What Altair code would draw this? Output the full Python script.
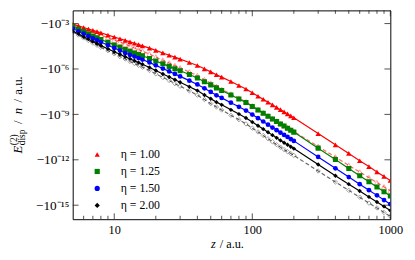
import altair as alt
import pandas as pd

# ---- data (z in a.u., values as log10|E| ) ----
z_values = [5, 5.5, 6, 6.5, 7, 7.5, 8, 9, 10, 11, 12, 13, 14, 15, 16, 18, 20,
            22.5, 25, 27.5, 30, 35, 40, 45, 50, 55, 60, 70, 80, 90, 100,
            110, 120, 130, 140, 150, 160, 170, 180, 190, 200,
            300, 400, 500, 600, 700, 800, 900, 1000]

log10_absE_eta100 = [-3.04, -3.15, -3.26, -3.36, -3.45, -3.53, -3.61, -3.76, -3.89, -4.00,
                     -4.11, -4.21, -4.30, -4.39, -4.47, -4.62, -4.77, -4.94, -5.09, -5.22,
                     -5.35, -5.57, -5.77, -5.99, -6.19, -6.38, -6.54, -6.83, -7.09, -7.32,
                     -7.57, -7.80, -8.00, -8.20, -8.37, -8.54, -8.69, -8.83, -8.97, -9.10,
                     -9.22, -10.27, -11.01, -11.58, -12.06, -12.45, -12.80, -13.10, -13.37]
log10_absE_eta125 = [-3.20, -3.37, -3.53, -3.68, -3.82, -3.94, -4.05, -4.24, -4.41, -4.57,
                     -4.71, -4.83, -4.94, -5.04, -5.13, -5.31, -5.47, -5.66, -5.83, -5.98,
                     -6.12, -6.37, -6.59, -6.84, -7.05, -7.25, -7.42, -7.72, -7.98, -8.22,
                     -8.48, -8.71, -8.92, -9.12, -9.30, -9.47, -9.63, -9.77, -9.91, -10.05,
                     -10.17, -11.23, -11.98, -12.57, -13.05, -13.45, -13.80, -14.11, -14.39]
log10_absE_eta150 = [-3.33, -3.51, -3.67, -3.83, -3.97, -4.10, -4.22, -4.43, -4.61, -4.78,
                     -4.94, -5.07, -5.18, -5.28, -5.38, -5.57, -5.76, -5.97, -6.16, -6.33,
                     -6.49, -6.77, -7.02, -7.28, -7.52, -7.74, -7.91, -8.23, -8.50, -8.75,
                     -9.01, -9.25, -9.47, -9.68, -9.87, -10.04, -10.21, -10.36, -10.49, -10.63,
                     -10.75, -11.81, -12.56, -13.14, -13.61, -14.01, -14.35, -14.66, -14.93]
log10_absE_eta200 = [-3.49, -3.68, -3.87, -4.03, -4.19, -4.32, -4.45, -4.67, -4.86, -5.03,
                     -5.19, -5.33, -5.46, -5.58, -5.69, -5.90, -6.10, -6.33, -6.53, -6.71,
                     -6.88, -7.17, -7.43, -7.72, -7.97, -8.19, -8.37, -8.70, -8.98, -9.24,
                     -9.51, -9.75, -9.97, -10.18, -10.37, -10.55, -10.72, -10.87, -11.01, -11.14,
                     -11.26, -12.31, -13.05, -13.61, -14.06, -14.45, -14.79, -15.08, -15.35]
# dashed (approximate) curves
log10_absE_eta100_dashed = [-3.10, -3.23, -3.35, -3.46, -3.57, -3.66, -3.76, -3.93, -4.09, -4.23,
                            -4.36, -4.48, -4.61, -4.72, -4.82, -5.02, -5.21, -5.42, -5.61, -5.78,
                            -5.93, -6.20, -6.44, -6.71, -6.94, -7.15, -7.35, -7.66, -7.93, -8.17,
                            -8.44, -8.68, -8.90, -9.10, -9.28, -9.44, -9.60, -9.74, -9.88, -10.01,
                            -10.13, -11.12, -11.82, -12.37, -12.81, -13.18, -13.51, -13.79, -14.05]
log10_absE_eta200_dashed = [-3.55, -3.76, -3.95, -4.12, -4.29, -4.43, -4.57, -4.79, -5.00, -5.18,
                            -5.34, -5.50, -5.64, -5.76, -5.88, -6.10, -6.32, -6.56, -6.76, -6.97,
                            -7.14, -7.45, -7.73, -8.02, -8.29, -8.51, -8.71, -9.06, -9.35, -9.63,
                            -9.91, -10.16, -10.39, -10.61, -10.81, -11.00, -11.17, -11.33, -11.46, -11.59,
                            -11.71, -12.74, -13.47, -14.02, -14.47, -14.86, -15.18, -15.48, -15.74]

eta_labels = ["η = 1.00", "η = 1.25", "η = 1.50", "η = 2.00"]
eta_colors = ["#ff0000", "#008000", "#0000ff", "#000000"]
eta_shapes = ["triangle-up", "square", "circle", "diamond"]
eta_marker_sizes = [30, 20, 22, 28]

x_major = [10, 100, 1000]
x_minor = [6, 7, 8, 9, 20, 30, 40, 50, 60, 70, 80, 90, 200, 300, 400, 500, 600, 700, 800, 900]
y_major = [1e-3, 1e-6, 1e-9, 1e-12, 1e-15]

# ---- table ----
rows = []
for lab, arr in zip(eta_labels, [log10_absE_eta100, log10_absE_eta125,
                                 log10_absE_eta150, log10_absE_eta200]):
    for zi, mi in zip(z_values, arr):
        rows.append({"z": zi, "absE": 10 ** mi, "eta": lab, "kind": "solid"})
for lab, arr in [(eta_labels[0], log10_absE_eta100_dashed),
                 (eta_labels[3], log10_absE_eta200_dashed)]:
    for zi, mi in zip(z_values, arr):
        rows.append({"z": zi, "absE": 10 ** mi, "eta": lab, "kind": "dashed"})
df = pd.DataFrame(rows)

W, H = 324, 213
FONT = "Liberation Serif"

xscale = alt.Scale(type="log", domain=[5, 1000], nice=False)
yscale = alt.Scale(type="log", domain=[10 ** -15.925, 10 ** -2.13], nice=False)

ylab = ("datum.value < 1e-14 ? '−10⁻¹⁵' : datum.value < 1e-11 ? '−10⁻¹²' : "
        "datum.value < 1e-8 ? '−10⁻⁹' : datum.value < 1e-5 ? '−10⁻⁶' : '−10⁻³'")

xaxis = alt.Axis(values=x_major, format="d", title=None, ticks=False, domain=False,
                 grid=False, labelFont=FONT, labelFontSize=12.5, labelPadding=5,
                 labelFlush=False, labelColor="black")
yaxis = alt.Axis(values=y_major, labelExpr=ylab, title=None, ticks=False, domain=False,
                 grid=False, labelFont=FONT, labelFontSize=13.5, labelPadding=4,
                 labelFlush=False, labelColor="black")

X = alt.X("z:Q", scale=xscale, axis=xaxis)
Y = alt.Y("absE:Q", scale=yscale, axis=yaxis)

legend = alt.Legend(orient="none", legendX=19, legendY=141, title=None, padding=0,
                    labelFont=FONT, labelFontSize=12, labelColor="black",
                    symbolSize=28, symbolStrokeWidth=0, rowPadding=5.3, labelOffset=18)

def col(leg=None):
    return alt.Color("eta:N", scale=alt.Scale(domain=eta_labels, range=eta_colors), legend=leg)

def shp(leg=None):
    return alt.Shape("eta:N", scale=alt.Scale(domain=eta_labels, range=eta_shapes), legend=leg)

SIZE = alt.Size("eta:N", scale=alt.Scale(domain=eta_labels, range=eta_marker_sizes), legend=None)

base = alt.Chart(df)
dashed = base.transform_filter("datum.kind == 'dashed'")
solid = base.transform_filter("datum.kind == 'solid'")

dashed_lines = dashed.mark_line(strokeWidth=1.2, strokeDash=[4, 2.5], opacity=0.6, clip=True).encode(
    x=X, y=Y, color=col())
dashed_pts = dashed.mark_point(filled=False, strokeWidth=0.8, opacity=0.45, clip=True).encode(
    x=X, y=Y, color=col(), shape=shp(), size=SIZE)
solid_lines = solid.mark_line(strokeWidth=1.2, clip=True).encode(x=X, y=Y, color=col())
solid_pts = solid.mark_point(filled=True, opacity=1, clip=True).encode(
    x=X, y=Y, color=col(legend), shape=shp(legend), size=SIZE)

# inward ticks on all four sides, placed through the scales
def xticks(vals, length):
    d = alt.Chart(pd.DataFrame({"z": vals}))
    bot = d.mark_rule(color="#222", strokeWidth=0.8).encode(
        x=alt.X("z:Q", scale=xscale, axis=xaxis), y=alt.value(H), y2=alt.value(H - length))
    top = d.mark_rule(color="#222", strokeWidth=0.8).encode(
        x=alt.X("z:Q", scale=xscale, axis=xaxis), y=alt.value(0), y2=alt.value(length))
    return [bot, top]

def yticks(vals, length):
    d = alt.Chart(pd.DataFrame({"absE": vals}))
    lft = d.mark_rule(color="#222", strokeWidth=0.8).encode(
        y=alt.Y("absE:Q", scale=yscale, axis=yaxis), x=alt.value(0), x2=alt.value(length))
    rgt = d.mark_rule(color="#222", strokeWidth=0.8).encode(
        y=alt.Y("absE:Q", scale=yscale, axis=yaxis), x=alt.value(W), x2=alt.value(W - length))
    return [lft, rgt]

def txt(s, x, y, size, style="normal", angle=0):
    return alt.Chart(pd.DataFrame({"t": [s]})).mark_text(
        align="left", baseline="alphabetic", font=FONT, fontSize=size, fontStyle=style,
        angle=angle, color="black").encode(text="t:N", x=alt.value(x), y=alt.value(y))

titles = [
    # y title: E^(2)_disp / n / a.u.   (plot origin at page (74, 8))
    txt("E", -51.5, 146, 13, "italic", 270),
    txt("(2)", -56.5, 137.5, 9.5, "normal", 270),
    txt("disp", -48.5, 137.5, 9.5, "normal", 270),
    txt("/", -51.5, 116, 13, "normal", 270),
    txt("n", -51.5, 106, 13, "italic", 270),
    txt("/", -51.5, 94, 13, "normal", 270),
    txt("a.u.", -51.5, 86, 13, "normal", 270),
    # x title: z / a.u.
    txt("z", 141, 242, 12.5, "italic"),
    txt("/ a.u.", 150, 242, 12.5, "normal"),
]

layers = [dashed_lines, dashed_pts, solid_lines, solid_pts] \
    + xticks(x_major, 6) + xticks(x_minor, 3.5) + yticks(y_major, 6) + titles

chart = alt.layer(*layers).resolve_scale(
    color="independent", shape="independent"
).properties(
    width=W, height=H,
    autosize=alt.AutoSizeParams(type="none"),
    padding={"left": 66, "top": 0, "right": 17, "bottom": 31},
).configure_view(stroke="black", strokeWidth=1)

chart.save("out.html", embed_options={"renderer": "svg", "actions": False})
